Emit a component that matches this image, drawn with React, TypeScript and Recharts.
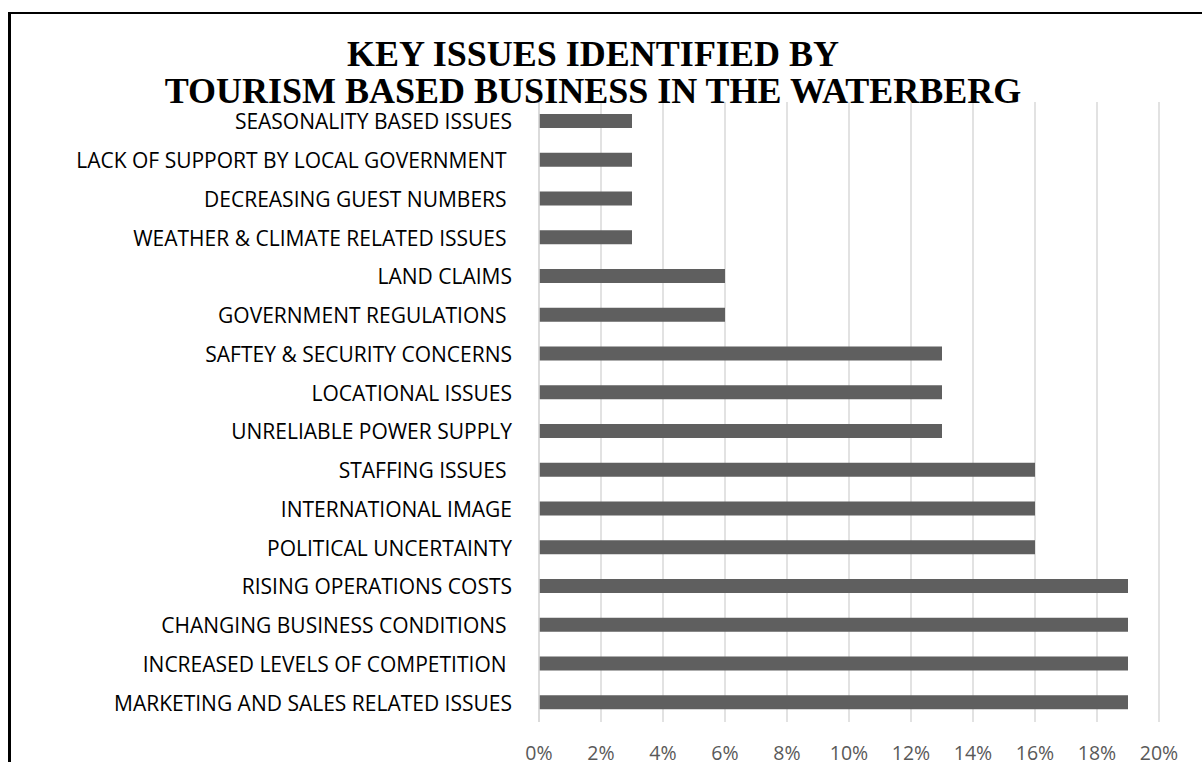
import React from "react";
import { BarChart, Bar, XAxis, YAxis, CartesianGrid } from "recharts";

const categories: string[] = [
  "SEASONALITY BASED ISSUES",
  "LACK OF SUPPORT BY LOCAL GOVERNMENT ",
  "DECREASING GUEST NUMBERS ",
  "WEATHER & CLIMATE RELATED ISSUES ",
  "LAND CLAIMS",
  "GOVERNMENT REGULATIONS ",
  "SAFTEY & SECURITY CONCERNS",
  "LOCATIONAL ISSUES",
  "UNRELIABLE POWER SUPPLY",
  "STAFFING ISSUES ",
  "INTERNATIONAL IMAGE",
  "POLITICAL UNCERTAINTY",
  "RISING OPERATIONS COSTS",
  "CHANGING BUSINESS CONDITIONS ",
  "INCREASED LEVELS OF COMPETITION ",
  "MARKETING AND SALES RELATED ISSUES",
];

const values: number[] = [3, 3, 3, 3, 6, 6, 13, 13, 13, 16, 16, 16, 19, 19, 19, 19];

const xTicks: number[] = [0, 2, 4, 6, 8, 10, 12, 14, 16, 18, 20];

const titleLines: string[] = [
  "KEY ISSUES IDENTIFIED BY",
  "TOURISM BASED BUSINESS IN THE WATERBERG",
];

const data = categories.map((c, i) => ({ name: c, value: values[i] }));

const labelFont = "'Open Sans', 'Liberation Sans', sans-serif";

const YTick = (props: any) => {
  const { x, y, payload } = props;
  return (
    <text
      x={x - 19}
      y={y}
      textAnchor="end"
      dominantBaseline="central"
      fill="#000000"
      fontFamily={labelFont}
      fontSize={21}
      style={{ whiteSpace: "pre" }}
    >
      {payload.value}
    </text>
  );
};

const XTick = (props: any) => {
  const { x, y, payload } = props;
  return (
    <text
      x={x}
      y={y + 22}
      textAnchor="middle"
      dominantBaseline="central"
      fill="#595959"
      fontFamily={labelFont}
      fontSize={19.5}
    >
      {payload.value + "%"}
    </text>
  );
};

export default function App() {
  return (
    <div
      style={{
        position: "absolute",
        left: 0,
        top: 0,
        width: 1202,
        height: 762,
        overflow: "hidden",
        background: "#ffffff",
      }}
    >
      <div
        style={{
          position: "absolute",
          left: 8,
          top: 12,
          width: 1300,
          height: 900,
          borderLeft: "3px solid #000",
          borderTop: "2px solid #000",
          boxSizing: "border-box",
        }}
      />
      <div style={{ position: "absolute", left: 0, top: 0 }}>
        <BarChart
          width={1202}
          height={762}
          data={data}
          layout="vertical"
          margin={{ top: 102, right: 43, bottom: 0, left: 0 }}
        >
          <CartesianGrid
            horizontal={false}
            vertical={true}
            stroke="#d9d9d9"
            strokeWidth={1.5}
          />
          <XAxis
            type="number"
            domain={[0, 20]}
            ticks={xTicks}
            axisLine={false}
            tickLine={false}
            tick={<XTick />}
            interval={0}
            height={40}
          />
          <YAxis
            type="category"
            dataKey="name"
            width={539}
            axisLine={{ stroke: "#d9d9d9", strokeWidth: 1.5 }}
            tickLine={false}
            tick={<YTick />}
            interval={0}
          />
          <Bar
            dataKey="value"
            fill="#5f5f5f"
            barSize={14}
            isAnimationActive={false}
          />
        </BarChart>
      </div>
      <svg
        width={1202}
        height={762}
        style={{ position: "absolute", left: 0, top: 0, pointerEvents: "none" }}
      >
        {titleLines.map((t, i) => (
          <text
            key={i}
            x={593}
            y={66 + i * 37}
            textAnchor="middle"
            fontFamily="'Liberation Serif', 'Times New Roman', serif"
            fontWeight="bold"
            fontSize={36}
            fill="#000"
          >
            {t}
          </text>
        ))}
      </svg>
    </div>
  );
}
